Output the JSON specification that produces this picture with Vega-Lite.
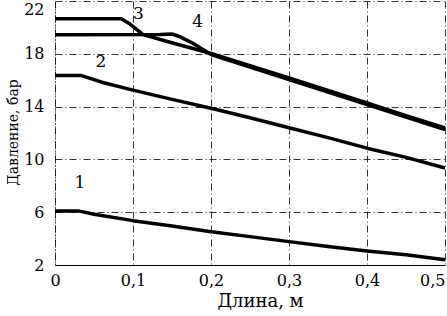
{
  "$schema": "https://vega.github.io/schema/vega-lite/v6.json",
  "width": 390,
  "height": 264,
  "autosize": "none",
  "padding": {"left": 55, "top": 1, "right": 2, "bottom": 51},
  "background": "white",
  "config": {
    "view": {"stroke": null},
    "font": "DejaVu Serif",
    "text": {"font": "DejaVu Serif"},
    "axis": {
      "labelFont": "DejaVu Serif",
      "titleFont": "DejaVu Serif",
      "labelColor": "black",
      "titleColor": "black",
      "labelFontSize": 16,
      "titleFontSize": 18,
      "titleFontWeight": "normal",
      "ticks": false,
      "domainColor": "black",
      "gridColor": "black",
      "gridOpacity": 0.8,
      "gridWidth": 1,
      "gridDash": [7, 3, 1, 3]
    }
  },
  "datasets": {
    "curves": [
      {"s": "1", "x": 0, "y": 6.1},
      {"s": "1", "x": 0.03, "y": 6.1},
      {"s": "1", "x": 0.05, "y": 5.85},
      {"s": "1", "x": 0.1, "y": 5.36},
      {"s": "1", "x": 0.15, "y": 4.95},
      {"s": "1", "x": 0.2, "y": 4.52},
      {"s": "1", "x": 0.25, "y": 4.15},
      {"s": "1", "x": 0.3, "y": 3.77},
      {"s": "1", "x": 0.35, "y": 3.4},
      {"s": "1", "x": 0.4, "y": 3.06},
      {"s": "1", "x": 0.45, "y": 2.78},
      {"s": "1", "x": 0.5, "y": 2.4},
      {"s": "2", "x": 0, "y": 16.35},
      {"s": "2", "x": 0.034, "y": 16.35},
      {"s": "2", "x": 0.06, "y": 15.85},
      {"s": "2", "x": 0.1, "y": 15.25},
      {"s": "2", "x": 0.15, "y": 14.55},
      {"s": "2", "x": 0.2, "y": 13.88},
      {"s": "2", "x": 0.25, "y": 13.15},
      {"s": "2", "x": 0.3, "y": 12.4},
      {"s": "2", "x": 0.35, "y": 11.65},
      {"s": "2", "x": 0.4, "y": 10.85},
      {"s": "2", "x": 0.45, "y": 10.15},
      {"s": "2", "x": 0.5, "y": 9.35},
      {"s": "3", "x": 0, "y": 20.65},
      {"s": "3", "x": 0.085, "y": 20.65},
      {"s": "3", "x": 0.095, "y": 20.3},
      {"s": "3", "x": 0.113, "y": 19.45},
      {"s": "3", "x": 0.144, "y": 18.93},
      {"s": "3", "x": 0.2, "y": 18.02},
      {"s": "3", "x": 0.25, "y": 17.1},
      {"s": "3", "x": 0.3, "y": 16.17},
      {"s": "3", "x": 0.35, "y": 15.22},
      {"s": "3", "x": 0.4, "y": 14.27},
      {"s": "3", "x": 0.45, "y": 13.32},
      {"s": "3", "x": 0.5, "y": 12.38},
      {"s": "4", "x": 0, "y": 19.45},
      {"s": "4", "x": 0.135, "y": 19.47},
      {"s": "4", "x": 0.15, "y": 19.5},
      {"s": "4", "x": 0.16, "y": 19.3},
      {"s": "4", "x": 0.175, "y": 18.85},
      {"s": "4", "x": 0.2, "y": 17.95},
      {"s": "4", "x": 0.25, "y": 17.0},
      {"s": "4", "x": 0.3, "y": 16.05},
      {"s": "4", "x": 0.35, "y": 15.1},
      {"s": "4", "x": 0.4, "y": 14.15},
      {"s": "4", "x": 0.45, "y": 13.2},
      {"s": "4", "x": 0.5, "y": 12.25}
    ],
    "labels": [
      {"t": "1", "x": 0.032, "y": 8.2},
      {"t": "2", "x": 0.059, "y": 17.4},
      {"t": "3", "x": 0.107, "y": 21.0},
      {"t": "4", "x": 0.183, "y": 20.4}
    ]
  },
  "layer": [
    {
      "data": {"name": "curves"},
      "mark": {"type": "line", "color": "black", "strokeWidth": 3.5, "interpolate": "linear", "strokeJoin": "round"},
      "encoding": {
        "x": {
          "field": "x", "type": "quantitative",
          "scale": {"domain": [0, 0.5], "nice": false, "zero": false},
          "axis": {
            "title": "Длина, м",
            "values": [0, 0.1, 0.2, 0.3, 0.4, 0.5],
            "labelExpr": "replace(format(datum.value, '.1~f'), '.', ',')",
            "labelPadding": 7,
            "labelAlign": {"condition": {"test": "datum.value == 0.5", "value": "right"}, "value": "center"},
            "labelFlush": false,
            "titleX": 205,
            "titleY": 36,
            "titleBaseline": "middle",
            "titleAlign": "center",
            "grid": true
          }
        },
        "y": {
          "field": "y", "type": "quantitative",
          "scale": {"domain": [2, 22], "nice": false, "zero": false},
          "axis": {
            "title": "Давление, бар",
            "titleFontSize": 14,
            "values": [2, 6, 10, 14, 18, 22],
            "labelPadding": 11,
            "labelBaseline": {"condition": {"test": "datum.value == 22", "value": "top"}, "value": "middle"},
            "labelFlush": false,
            "domainDash": [1, 2],
            "titleX": -42,
            "titleY": 131,
            "titleAngle": -90,
            "titleBaseline": "middle",
            "titleAlign": "center",
            "grid": true
          }
        },
        "detail": {"field": "s"}
      }
    },
    {
      "data": {"name": "labels"},
      "mark": {"type": "text", "fontSize": 17, "color": "black"},
      "encoding": {
        "x": {"field": "x", "type": "quantitative"},
        "y": {"field": "y", "type": "quantitative"},
        "text": {"field": "t"}
      }
    }
  ]
}
